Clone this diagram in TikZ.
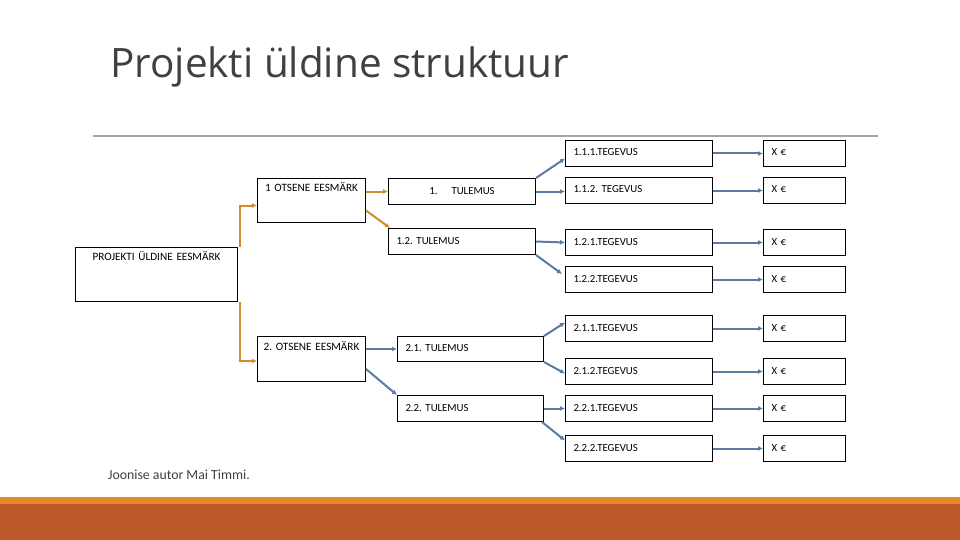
\documentclass[tikz,border=0pt]{standalone}
\usepackage{fontspec}
\setmainfont{Carlito}
\newfontfamily\titlefont{Open Sans}
\usepackage{tikz}
\usetikzlibrary{positioning, arrows.meta, calc}
\definecolor{titlegray}{HTML}{404040}
\definecolor{rulegray}{HTML}{A6A6A6}
\definecolor{goalorange}{HTML}{D48A2E}
\definecolor{stepblue}{HTML}{5A7BA2}
\definecolor{barorange}{HTML}{E38B1F}
\definecolor{barrust}{HTML}{BC5A2C}

\tikzset{
  box/.style={draw, line width=1pt, rectangle, anchor=north west, align=left,
    font=\frenchspacing\fontsize{10.8}{12}\selectfont, inner xsep=8pt, inner ysep=0pt,
    minimum height=26pt, text height=7pt, text depth=2pt},
  goalbox/.style={box, align=center, font=\frenchspacing\fontsize{11.2}{12}\selectfont,
    inner xsep=3pt, inner ysep=6pt},
  resbox/.style={box, text width=131pt},
  actbox/.style={box, text width=131pt},
  costbox/.style={box, text width=66pt},
  goalline/.style={draw=goalorange, line width=2pt, -{Latex[length=5pt,width=5pt]}},
  stepline/.style={draw=stepblue, line width=2pt, -{Latex[length=5pt,width=5pt]}}
}

\begin{document}
\frenchspacing
\begin{tikzpicture}[x=1pt, y=-1pt]
   \useasboundingbox[fill=white] (0,0) rectangle (960,540);

   % title and rule
   \node[anchor=base west, text=titlegray, font=\titlefont\fontsize{40.5}{44}\selectfont, inner sep=0pt] (title) at (110,78) {Projekti üldine struktuur};
   \coordinate (ruleL) at (93,136);
   \coordinate (ruleR) at (878,136);
   \draw[rulegray, line width=1.2pt] (ruleL) -- (ruleR);

   % goals
   \node[goalbox, text width=156pt, text depth=34.5pt, minimum height=54pt] (proj) at (75,247) {PROJEKTI ÜLDINE EESMÄRK};
   \node[goalbox, text width=102pt, text depth=25pt, minimum height=44pt] (o1) at (257,178) {1 OTSENE EESMÄRK};
   \node[goalbox, text width=102pt, text depth=25pt, minimum height=45pt] (o2) at (257,336) {2. OTSENE EESMÄRK};

   % results
   \node[resbox, align=center] (r11) at (388,178) {1.\hspace{14pt}TULEMUS};
   \node[resbox] (r12) at (388,228) {1.2. TULEMUS};
   \node[resbox, text width=130pt, minimum height=25pt] (r21) at (397,336) {2.1. TULEMUS};
   \node[resbox, text width=130pt] (r22) at (397,395) {2.2. TULEMUS};

   % activities
   \node[actbox] (t111) at (565,140) {1.1.1.TEGEVUS};
   \node[actbox] (t112) at (565,177) {1.1.2. TEGEVUS};
   \node[actbox] (t121) at (565,229) {1.2.1.TEGEVUS};
   \node[actbox] (t122) at (565,266) {1.2.2.TEGEVUS};
   \node[actbox] (t211) at (565,315) {2.1.1.TEGEVUS};
   \node[actbox] (t212) at (565,358) {2.1.2.TEGEVUS};
   \node[actbox] (t221) at (565,395) {2.2.1.TEGEVUS};
   \node[actbox] (t222) at (565,435) {2.2.2.TEGEVUS};

   % costs
   \node[costbox, right=50pt of t111] (x111) {X €};
   \node[costbox, right=50pt of t112] (x112) {X €};
   \node[costbox, right=50pt of t121] (x121) {X €};
   \node[costbox, right=50pt of t122] (x122) {X €};
   \node[costbox, right=50pt of t211] (x211) {X €};
   \node[costbox, right=50pt of t212] (x212) {X €};
   \node[costbox, right=50pt of t221] (x221) {X €};
   \node[costbox, right=50pt of t222] (x222) {X €};

   % goal connectors
   \draw[goalline] ($(proj.north east)+(2,0)$) |- ($(o1.west)+(0,5)$);
   \draw[goalline] ($(proj.south east)+(2,0)$) |- ($(o2.west)+(0,2)$);
   \draw[goalline] (o1.east |- r11.west) -- (r11.west);
   \draw[goalline] ($(o1.east)+(0,10)$) -- ($(r12.north west)+(2,0)$);
   \draw[stepline] (o2.east |- r21.west) -- (r21.west);
   \draw[stepline] ($(o2.east)+(0,10)$) -- (r22.north west);

   % result connectors
   \draw[stepline] (r11.north east) -- ($(t111.west)+(0,5)$);
   \draw[stepline] (r11.east) -- (t112.west |- r11.east);
   \draw[stepline] (r12.east) -- (t121.west);
   \draw[stepline] (r12.south east) -- ($(t122.north west)+(-3,8)$);
   \draw[stepline] (r21.north east) -- ($(t211.west)+(0,-6)$);
   \draw[stepline] (r21.south east) -- ($(t212.west)+(0,2)$);
   \draw[stepline] (r22.east) -- (t221.west);
   \draw[stepline] ($(r22.south east)+(-2,0)$) -- ($(t222.west)+(0,-8)$);

   % activity connectors
   \path[stepline]
    (t111) edge (x111)
    (t112) edge (x112)
    (t121) edge (x121)
    (t122) edge (x122)
    (t211) edge (x211)
    (t212) edge (x212)
    (t221) edge (x221)
    (t222) edge (x222);

   % footer
   \node[anchor=base west, text=titlegray, font=\fontsize{13.8}{16}\selectfont, inner sep=0pt] (author) at (108,479) {Joonise autor Mai Timmi.};
   \fill[barorange] (0,497) rectangle (960,504);
   \fill[barrust] (0,504) rectangle (960,540);
\end{tikzpicture}
\end{document}
